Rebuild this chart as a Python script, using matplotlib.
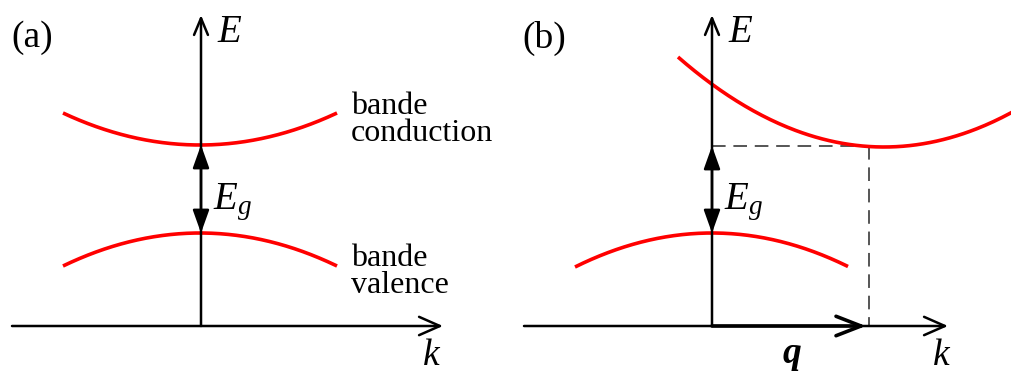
import numpy as np
import matplotlib
matplotlib.use("Agg")
import matplotlib.pyplot as plt

plt.rcParams['font.family'] = ['Liberation Serif', 'DejaVu Serif']
plt.rcParams['mathtext.fontset'] = 'custom'
plt.rcParams['mathtext.rm'] = 'Liberation Serif'
plt.rcParams['mathtext.it'] = 'Liberation Serif:italic'
plt.rcParams['mathtext.bf'] = 'Liberation Serif:bold'

# band curves: (x_start, x_end, x_vertex, y_vertex, y_at_start), pixel units
bands_a = [(63, 337, 200, 145, 113),     # conduction
           (63, 337, 200, 233, 266)]     # valence
bands_b = [(678, 1012, 884, 147, 57),    # conduction (indirect)
           (575, 848, 712, 233, 267)]    # valence

# axes origins: (x_origin, y_origin, x_left, x_right, y_top)
axes_a = (201, 326, 12, 443, 15)
axes_b = (712, 326, 524, 948, 15)

gap_a = (201, 145, 233)
gap_b = (712, 146, 233)
q_end = 869

fig = plt.figure(figsize=(10.12, 3.74), dpi=100)
ax = fig.add_axes([0, 0, 1, 1])
ax.set_xlim(0, 1012)
ax.set_ylim(374, 0)
ax.axis('off')

FS = 23
FM = 28
red = '#ff0000'


def band(b):
    x0, x1, xv, yv, ys = b
    c = (ys - yv) / (x0 - xv) ** 2
    x = np.linspace(x0, x1, 200)
    ax.plot(x, yv + c * (x - xv) ** 2, color=red, lw=2.6, solid_capstyle='butt', zorder=2)


def axes_arrows(a):
    xo, yo, xl, xr, yt = a
    ax.annotate('', xy=(xr, yo), xytext=(xl, yo),
                arrowprops=dict(arrowstyle='->,head_length=0.75,head_width=0.33',
                                lw=1.8, color='black', shrinkA=0, shrinkB=0,
                                mutation_scale=20))
    ax.annotate('', xy=(xo, yt), xytext=(xo, yo),
                arrowprops=dict(arrowstyle='->,head_length=0.6,head_width=0.25',
                                lw=1.8, color='black', shrinkA=0, shrinkB=0,
                                mutation_scale=20))


def gap_arrow(g):
    x, y1, y2 = g
    ax.annotate('', xy=(x, y1), xytext=(x, y2),
                arrowprops=dict(arrowstyle='<|-|>,head_length=0.7,head_width=0.25',
                                lw=1.8, color='black', shrinkA=0, shrinkB=0,
                                mutation_scale=20), zorder=3)


# panel (a)
for b in bands_a:
    band(b)
axes_arrows(axes_a)
gap_arrow(gap_a)
ax.text(11, 38, '(a)', fontsize=27, va='center', ha='left')
ax.text(217, 32, r'$E$', fontsize=FM, va='center', ha='left')
ax.text(213, 202, r'$E_g$', fontsize=FM, va='center', ha='left')
ax.text(431, 365, 'k', fontsize=27, va='baseline', ha='center', fontstyle='italic')
ax.text(351, 92, 'bande\nconduction', fontsize=FS, va='top', ha='left', linespacing=0.9)
ax.text(351, 244, 'bande\nvalence', fontsize=FS, va='top', ha='left', linespacing=0.9)

# panel (b)
for b in bands_b:
    band(b)
axes_arrows(axes_b)
gap_arrow(gap_b)
xo, yo = axes_b[0], axes_b[1]
ax.plot([xo, q_end], [gap_b[1], gap_b[1]], color='#555555', lw=1.4, dashes=(7, 4), zorder=1)
ax.plot([q_end, q_end], [gap_b[1], yo], color='#555555', lw=1.4, dashes=(7, 4), zorder=1)
ax.annotate('', xy=(q_end - 3, yo), xytext=(xo, yo),
            arrowprops=dict(arrowstyle='->,head_length=0.9,head_width=0.35',
                            lw=2.6, color='black', shrinkA=0, shrinkB=0,
                            mutation_scale=20))
ax.text(522, 38, '(b)', fontsize=27, va='center', ha='left')
ax.text(728, 32, r'$E$', fontsize=FM, va='center', ha='left')
ax.text(724, 202, r'$E_g$', fontsize=FM, va='center', ha='left')
ax.text(941, 365, 'k', fontsize=27, va='baseline', ha='center', fontstyle='italic')
ax.text(792, 363, 'q', fontsize=27, va='baseline', ha='center',
        fontstyle='italic', fontweight='bold')

fig.savefig('out.png', dpi=100)
